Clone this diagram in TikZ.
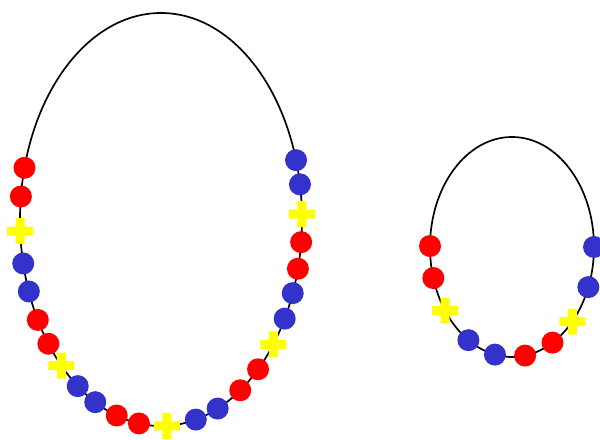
\documentclass[tikz,border=0pt]{standalone}
\usepackage{tikz}

\definecolor{beadred}{RGB}{255,0,0}
\definecolor{beadblue}{RGB}{51,51,204}
\definecolor{beadyellow}{RGB}{255,255,0}
\tikzset{
  necklace/.style={black, line width=1.2pt},
}

\begin{document}
\begin{tikzpicture}[x=0.025cm, y=0.025cm]
    \useasboundingbox (0,0) rectangle (600,440);
    \coordinate (big) at (161,220.5);
    \coordinate (small) at (512,193);

    \draw[necklace] (big) ellipse (141 and 206.5);   % large loop
    \draw[necklace] (small) ellipse (82 and 110);    % small loop

    % large loop beads
    \begin{scope}[shift={(big)}]
      \foreach \a/\c in {165.5/beadred, 173.6/beadred, 192.3/beadblue, 200.4/beadblue,
                         209.1/beadred, 217/beadred, 233.8/beadblue, 242.2/beadblue,
                         251.7/beadred, 261/beadred, 284.3/beadblue, 293.7/beadblue,
                         304.2/beadred, 313.5/beadred, 331.3/beadblue, 339.1/beadblue,
                         346.2/beadred, 353.7/beadred, 9.8/beadblue, 16.7/beadblue}
        \fill[\c] (\a:141 and 206.5) circle (11);
      \foreach \a in {183.2, 225, 272.4, 322.8, 1.5}
        \fill[beadyellow] (\a:141 and 206.5) ++(-13,-4.5) rectangle ++(26,9)
                          (\a:141 and 206.5) ++(-4.5,-13) rectangle ++(9,26);
    \end{scope}

    % small loop beads
    \begin{scope}[shift={(small)}]
      \foreach \a/\c in {179.5/beadred, 196.4/beadred, 237.9/beadblue, 258/beadblue,
                         279.2/beadred, 299.6/beadred, 338.6/beadblue, 0/beadblue}
        \fill[\c] (\a:82 and 110) circle (11);
      \foreach \a in {215.4, 317.3}
        \fill[beadyellow] (\a:82 and 110) ++(-13,-4.5) rectangle ++(26,9)
                          (\a:82 and 110) ++(-4.5,-13) rectangle ++(9,26);
    \end{scope}
  \end{tikzpicture}
\end{document}
